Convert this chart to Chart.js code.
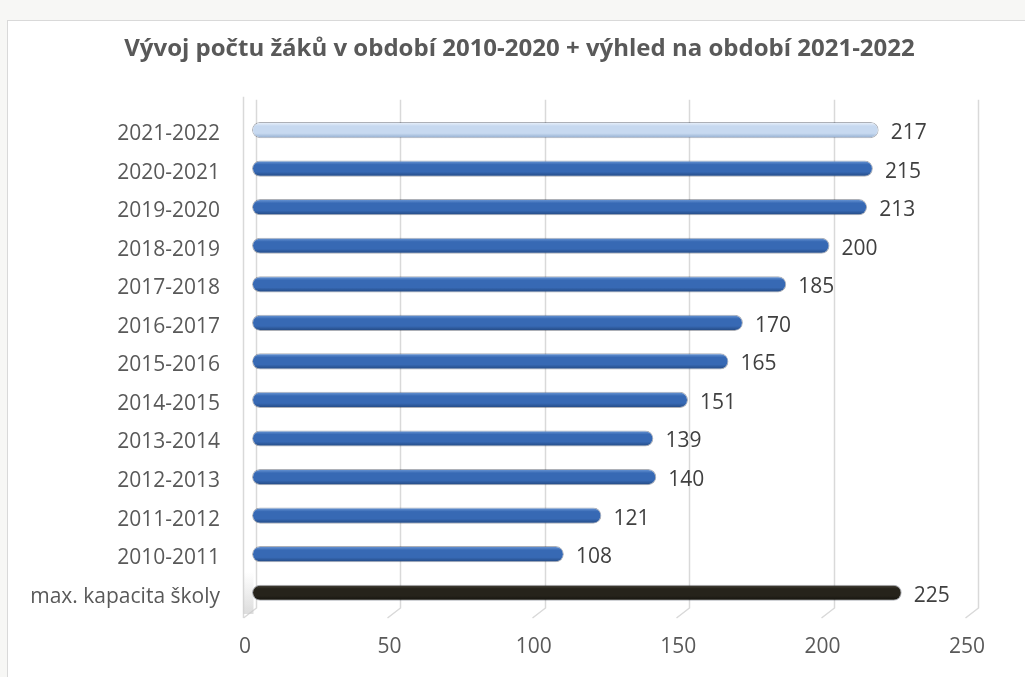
<!DOCTYPE html>
<html>
<head>
<meta charset="utf-8">
<script src="https://cdn.jsdelivr.net/npm/chart.js@4.4.1/dist/chart.umd.min.js"></script>
<style>
  html, body { margin: 0; padding: 0; background: #f7f7f5; }
  #frame {
    position: absolute; left: 7px; top: 20px; width: 1100px; height: 700px;
    background: #fff; border: 1px solid #d9d9d9;
  }
  #wrap { position: absolute; left: 0; top: 0; width: 1025px; height: 677px; }
</style>
</head>
<body>
<div id="frame"></div>
<div id="wrap"><canvas id="chart"></canvas></div>
<script>
// data, top row first
const periods = ['2021-2022', '2020-2021', '2019-2020', '2018-2019', '2017-2018', '2016-2017',
  '2015-2016', '2014-2015', '2013-2014', '2012-2013', '2011-2012', '2010-2011', 'max. kapacita školy'];
const pupils = [217, 215, 213, 200, 185, 170, 165, 151, 139, 140, 121, 108, 225];
const xTicks = [0, 50, 100, 150, 200, 250];

const titleText = 'Vývoj počtu žáků v období 2010-2020 + výhled na období 2021-2022';
const fontName = '"Open Sans", sans-serif';

// colour stops of the cylinder look: top edge, body, bottom
function barStops(index) {
  if (periods[index] === 'max. kapacita školy') return ['#4a463c', '#26231b', '#12110c'];
  if (index === 0) return ['#eef4fc', '#c7d9f0', '#90abce'];
  return ['#6f9bd8', '#3769b4', '#22477f'];
}

function barFill(context) {
  const chart = context.chart;
  const yScale = chart.scales.y;
  const s = barStops(context.dataIndex);
  if (!yScale || context.dataIndex === undefined) return s[1];
  const y = yScale.getPixelForValue(context.dataIndex);
  if (!isFinite(y)) return s[1];
  const h = 8;
  const g = chart.ctx.createLinearGradient(0, y - h, 0, y + h);
  g.addColorStop(0, s[0]);
  g.addColorStop(0.25, s[1]);
  g.addColorStop(0.7, s[1]);
  g.addColorStop(1, s[2]);
  return g;
}

// gridlines with the little perspective foot at the bottom
const gridPlugin = {
  id: 'gridPlugin',
  beforeDatasetsDraw(chart) {
    const ctx = chart.ctx;
    const xs = chart.scales.x;
    const area = chart.chartArea;
    ctx.save();
    ctx.strokeStyle = '#d9d9d9';
    ctx.lineWidth = 1.5;
    xTicks.forEach(v => {
      const px = Math.round(xs.getPixelForValue(v) + 4) + 0.5;
      ctx.beginPath();
      ctx.moveTo(px, area.top - 11);
      ctx.lineTo(px, area.bottom - 4);
      ctx.lineTo(px - 13, area.bottom + 6);
      ctx.stroke();
    });
    // left wall with a soft shade at its foot
    const x0 = Math.round(xs.getPixelForValue(0) - 9) + 0.5;
    ctx.beginPath();
    ctx.moveTo(x0, area.top - 14);
    ctx.lineTo(x0, area.bottom + 6);
    ctx.stroke();
    const sh = ctx.createLinearGradient(0, area.bottom - 40, 0, area.bottom);
    sh.addColorStop(0, 'rgba(200,200,200,0)');
    sh.addColorStop(1, 'rgba(200,200,200,0.6)');
    ctx.fillStyle = sh;
    ctx.fillRect(x0, area.bottom - 40, 10, 42);
    ctx.restore();
  }
};

// value labels next to each bar end
const valuePlugin = {
  id: 'valuePlugin',
  afterDatasetsDraw(chart) {
    const ctx = chart.ctx;
    const meta = chart.getDatasetMeta(0);
    ctx.save();
    ctx.font = '21px ' + fontName;
    ctx.fillStyle = '#404040';
    ctx.textAlign = 'left';
    ctx.textBaseline = 'middle';
    meta.data.forEach((bar, i) => {
      ctx.fillText(String(pupils[i]), bar.x + 12, bar.y + 3);
    });
    ctx.restore();
  }
};

const chart = new Chart(document.getElementById('chart'), {
  type: 'bar',
  data: {
    labels: periods,
    datasets: [{
      data: pupils,
      backgroundColor: barFill,
      borderColor: 'rgba(20,30,50,0.35)',
      borderWidth: 1,
      borderRadius: 8,
      borderSkipped: false,
      barPercentage: 1,
      categoryPercentage: 0.42
    }]
  },
  options: {
    indexAxis: 'y',
    responsive: true,
    maintainAspectRatio: false,
    animation: false,
    layout: { padding: { left: 14, right: 0, top: 0, bottom: 0 } },
    plugins: {
      legend: { display: false },
      tooltip: { enabled: false },
      title: {
        display: true,
        text: titleText,
        color: '#595959',
        font: { family: fontName, size: 24, weight: 'bold' },
        padding: { top: 35, bottom: 47 }
      }
    },
    scales: {
      x: {
        min: 0,
        max: 250,
        afterBuildTicks(axis) { axis.ticks = xTicks.map(v => ({ value: v })); },
        afterFit(axis) { axis.height = 65; },
        grid: { display: false, drawTicks: false },
        border: { display: false },
        ticks: {
          color: '#595959',
          font: { family: fontName, size: 21 },
          padding: 22,
          labelOffset: -7,
          maxRotation: 0
        }
      },
      y: {
        afterFit(axis) { axis.width = 238; },
        grid: { display: false, drawTicks: false },
        border: { display: false },
        ticks: {
          color: '#595959',
          font: { family: fontName, size: 21 },
          padding: 32,
          labelOffset: 4
        }
      },
      // empty axis on the right, only to hold the right margin
      yRight: {
        type: 'category',
        position: 'right',
        afterFit(axis) { axis.width = 51; },
        grid: { display: false, drawTicks: false },
        border: { display: false },
        ticks: { display: false }
      }
    }
  },
  plugins: [gridPlugin, valuePlugin]
});
// second pass so the gradients are built with the final scale
chart.update();
</script>
</body>
</html>
